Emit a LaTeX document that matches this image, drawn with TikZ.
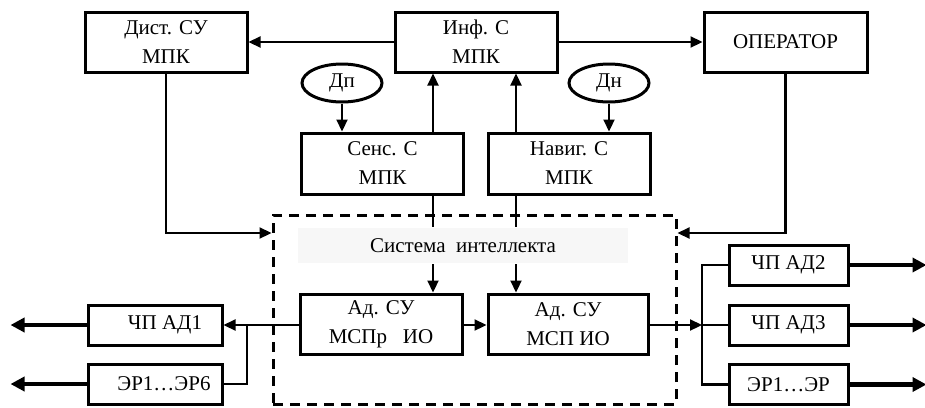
\documentclass[tikz,border=0pt]{standalone}
\usepackage{fontspec}
\setmainfont{Liberation Serif}
\usepackage{tikz}
\usetikzlibrary{arrows.meta,shapes.geometric,calc}
\definecolor{fondogris}{RGB}{247,247,247}

\begin{document}
\begin{tikzpicture}[x=1pt, y=-1pt, >={Triangle[length=12pt,width=11pt]}, line width=2.2pt,
    bloque/.style={draw, line width=3pt, minimum width=162pt, minimum height=60pt,
        align=center, inner sep=0pt, font=\fontsize{21}{29}\selectfont},
    chico/.style={bloque, minimum width=134pt, minimum height=40pt},
    ovalo/.style={draw, ellipse, line width=3pt, minimum width=80pt, minimum height=38pt,
        inner sep=0pt, font=\fontsize{21}{24}\selectfont},
    marco/.style={draw, line width=3pt, dash pattern=on 10pt off 7pt,
        minimum width=403pt, minimum height=189pt},
    salida/.style={line width=4.5pt, -{Triangle[length=14pt,width=14pt]}}]
    \useasboundingbox (0,0) rectangle (925,407);
    % upper row
    \node[bloque] (dist) at (166,42) {Дист. СУ\\МПК};
    \node[bloque] (inf) at (476,42) {Инф. С\\МПК};
    \node[bloque, minimum width=163pt] (oper) at (785.5,42) {ОПЕРАТОР};
    \node[ovalo] (dp) at (342,83) {Дп};
    \node[ovalo] (dn) at (609,83) {Дн};
    \node[bloque, minimum height=61pt] (sens) at (382.5,163.5) {Сенс. С\\МПК};
    \node[bloque, minimum height=61pt] (nav) at (569,163.5) {Навиг. С\\МПК};
    % intelligence system
    \node[marco] (sys) at (474.5,309.5) {};
    \node[fill=fondogris, minimum width=330pt, minimum height=35pt, inner sep=0pt,
        font=\fontsize{21}{24}\selectfont] (intel) at (463,245.5) {Система\ \ интеллекта};
    \node[bloque] (ad1) at (381,324) {Ад. СУ\\МСПр\ \ \ ИО};
    \node[bloque, minimum width=160pt] (ad2) at (568,324) {Ад. СУ\\МСП ИО};
    % actuators
    \node[chico] (chp1) at (155,325) {\hspace*{20pt}ЧП АД1};
    \node[chico] (er6) at (155,384) {\hspace*{18pt}ЭР1…ЭР6};
    \node[chico, minimum width=119pt] (chp2) at (788.5,265) {ЧП АД2};
    \node[chico, minimum width=119pt] (chp3) at (788.5,325) {ЧП АД3};
    \node[chico, minimum width=119pt] (er) at (788.5,384.5) {ЭР1…ЭР};
    \coordinate (sx) at (433,0);
    \coordinate (nx) at (516,0);
    \coordinate (fb) at (0,233);
    \coordinate (lj) at (247,325);
    \coordinate (rj) at (702,325);
    % connectors
    \draw[->] (inf) -- (dist);
    \draw[->] (inf) -- (oper);
    \draw[->] (dp) -- (dp |- sens.north);
    \draw[->] (dn) -- (dn |- nav.north);
    \draw[->] (sens.north -| sx) -- (inf.south -| sx);
    \draw[->] (nav.north -| nx) -- (inf.south -| nx);
    \draw (sens.south -| sx) -- (intel.north -| sx);
    \draw (nav.south -| nx) -- (intel.north -| nx);
    \draw[->] (intel.south -| sx) -- (ad1.north -| sx);
    \draw[->] (intel.south -| nx) -- (ad2.north -| nx);
    \draw[->] (dist.south) |- (sys.west |- fb);
    \draw[->] (oper.south) |- (sys.east |- fb);
    \draw[->] (ad1.east |- rj) -- (ad2.west |- rj);
    \draw[->] (ad1.west |- lj) -- (chp1.east);
    \draw (lj) |- (er6.east);
    \draw[->] (ad2.east |- rj) -- (rj);
    \draw (chp2.west) -| (er.west -| rj) -- (er.west);
    \draw (rj) -- (chp3.west);
    % outputs
    \foreach \b in {chp1,er6} \draw[salida] (\b.west) -- ++(-76,0);
    \foreach \b in {chp2,chp3,er} \draw[salida] (\b.east) -- ++(77,0);
\end{tikzpicture}
\end{document}
